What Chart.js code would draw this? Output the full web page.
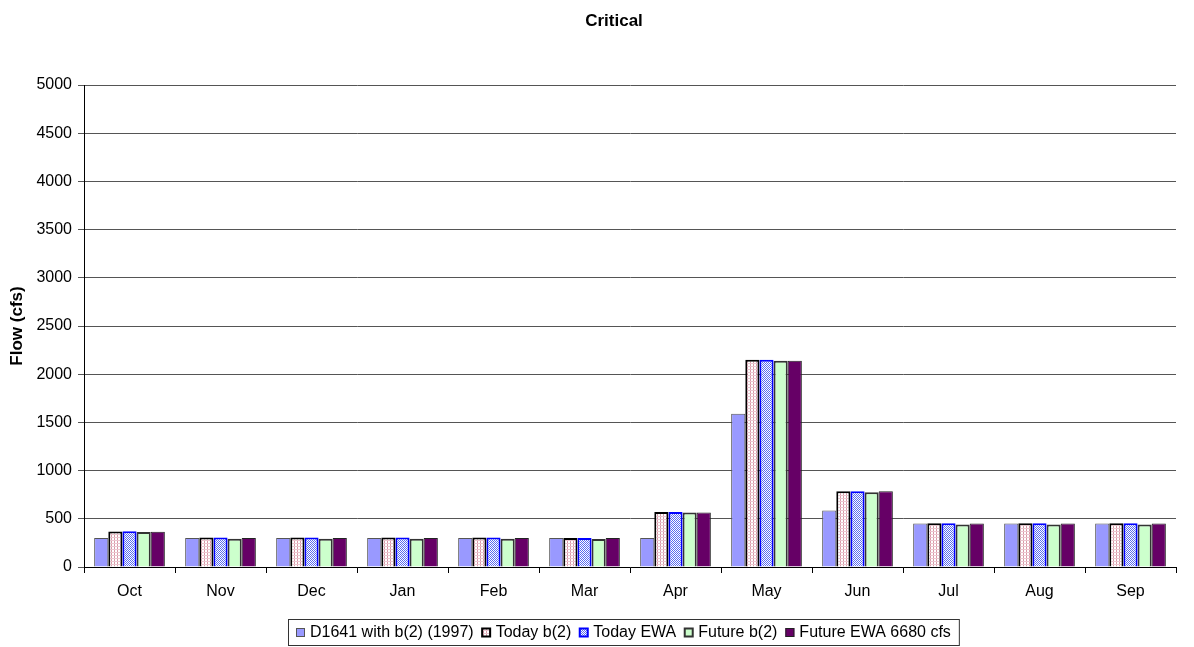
<!DOCTYPE html>
<html>
<head>
<meta charset="utf-8">
<script src="https://cdn.jsdelivr.net/npm/chart.js"></script>
<style>
  body { margin: 0; background: #fff; }
  canvas { display: block; }
</style>
</head>
<body>
<canvas id="flowChart" width="1194" height="647"></canvas>
<script>
const months = ['Oct', 'Nov', 'Dec', 'Jan', 'Feb', 'Mar', 'Apr', 'May', 'Jun', 'Jul', 'Aug', 'Sep'];
const d1641 = [300, 300, 300, 300, 300, 300, 300, 1590, 585, 450, 450, 450];
const todayB2 = [368, 305, 305, 305, 305, 300, 570, 2150, 785, 455, 455, 455];
const todayEwa = [372, 305, 305, 305, 305, 300, 570, 2150, 785, 455, 455, 455];
const futureB2 = [362, 292, 292, 292, 292, 290, 565, 2140, 775, 440, 440, 440];
const futureEwa = [366, 300, 300, 300, 300, 300, 565, 2140, 785, 450, 450, 450];
const yTicks = [0, 500, 1000, 1500, 2000, 2500, 3000, 3500, 4000, 4500, 5000];

const font = "'Liberation Sans', Arial, sans-serif";

function makePattern(draw, size) {
  const c = document.createElement('canvas');
  c.width = size; c.height = size;
  draw(c.getContext('2d'));
  return c.getContext('2d').createPattern(c, 'repeat');
}

// pink grid on white
const pinkGrid = makePattern(g => {
  g.fillStyle = '#fff'; g.fillRect(0, 0, 3, 3);
  g.fillStyle = '#d99aa8'; g.fillRect(0, 0, 1, 3);
  g.fillStyle = '#ecc6d0'; g.fillRect(0, 0, 3, 1);
}, 3);

// blue checker
const blueCheck = makePattern(g => {
  g.fillStyle = '#fff'; g.fillRect(0, 0, 2, 2);
  g.fillStyle = '#5a6cf0'; g.fillRect(0, 0, 1, 1); g.fillRect(1, 1, 1, 1);
}, 2);

// title and boxed legend, drawn the way the old spreadsheet did
const decorations = {
  id: 'decorations',
  afterDraw(chart) {
    const ctx = chart.ctx;
    ctx.save();
    ctx.fillStyle = '#000';
    ctx.font = 'bold 17px ' + font;
    ctx.textAlign = 'center';
    ctx.textBaseline = 'middle';
    ctx.fillText('Critical', 614, 21);

    ctx.font = '16px ' + font;
    ctx.textAlign = 'left';
    const sets = chart.data.datasets;
    const widths = sets.map(ds => ctx.measureText(ds.label).width);
    const left = 288, top = 619, h = 26;
    let total = 8;
    widths.forEach(w => { total += 9 + 5 + w + 8; });
    ctx.strokeStyle = '#333';
    ctx.lineWidth = 1;
    ctx.strokeRect(left + 0.5, top + 0.5, total, h);
    let x = left + 8;
    const cy = top + h / 2 + 1;
    sets.forEach((ds, i) => {
      ctx.fillStyle = ds.backgroundColor;
      ctx.fillRect(x, cy - 5, 9, 9);
      ctx.strokeStyle = ds.borderColor;
      ctx.lineWidth = ds.borderWidth;
      ctx.strokeRect(x + 0.5, cy - 4.5, 8, 8);
      ctx.fillStyle = '#000';
      ctx.fillText(ds.label, x + 14, cy);
      x += 9 + 5 + widths[i] + 8;
    });
    ctx.restore();
  }
};

new Chart(document.getElementById('flowChart'), {
  type: 'bar',
  data: {
    labels: months,
    datasets: [
      { label: 'D1641 with b(2) (1997)', data: d1641, backgroundColor: '#9999ff', borderColor: '#555', borderWidth: 1 },
      { label: 'Today b(2)', data: todayB2, backgroundColor: pinkGrid, borderColor: '#000', borderWidth: 2 },
      { label: 'Today EWA', data: todayEwa, backgroundColor: blueCheck, borderColor: '#0000ff', borderWidth: 2 },
      { label: 'Future b(2)', data: futureB2, backgroundColor: '#ccffcc', borderColor: '#333', borderWidth: 2 },
      { label: 'Future EWA 6680 cfs', data: futureEwa, backgroundColor: '#660066', borderColor: '#222', borderWidth: 1 }
    ]
  },
  options: {
    responsive: false,
    animation: false,
    devicePixelRatio: 1,
    datasets: { bar: { categoryPercentage: 0.777, barPercentage: 1.0 } },
    layout: { padding: { left: 0, right: 18, top: 85, bottom: 46 } },
    plugins: {
      title: { display: false },
      legend: { display: false },
      tooltip: { enabled: false }
    },
    scales: {
      x: {
        afterFit(scale) { scale.height = 34; },
        grid: { offset: true, drawOnChartArea: false, color: '#000', tickLength: 6 },
        border: { color: '#000' },
        ticks: { color: '#000', font: { family: font, size: 16 }, padding: 9 }
      },
      y: {
        min: 0,
        max: 5000,
        afterBuildTicks(scale) { scale.ticks = yTicks.map(v => ({ value: v })); },
        afterFit(scale) { scale.width = 84; },
        grid: { color: '#555', tickLength: 6 },
        border: { color: '#000' },
        ticks: { color: '#000', font: { family: font, size: 16 }, padding: 6, callback: v => String(v) },
        title: { display: true, text: 'Flow (cfs)', color: '#000', font: { family: font, size: 17, weight: 'bold' }, padding: { top: 7, bottom: 0 } }
      }
    }
  },
  plugins: [decorations]
});
</script>
</body>
</html>
